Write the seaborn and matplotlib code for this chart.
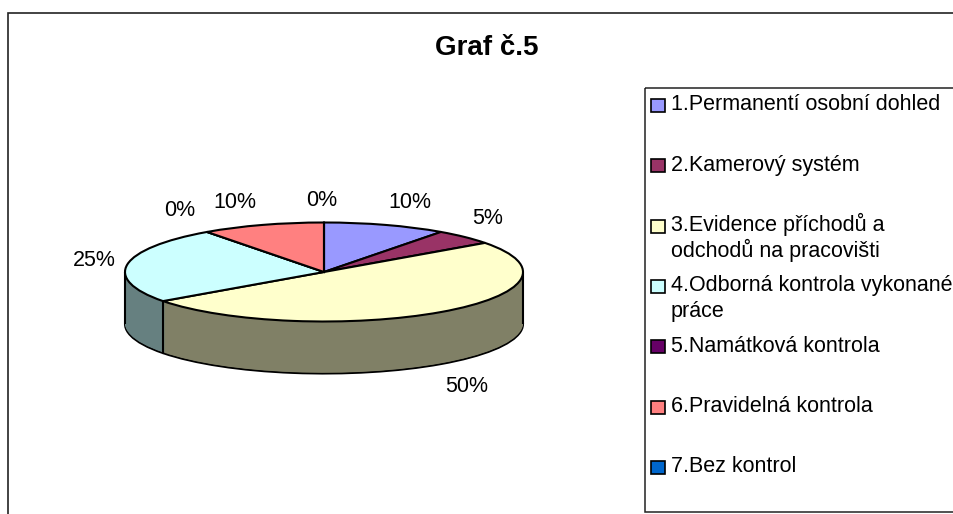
import matplotlib.pyplot as plt
import numpy as np
import seaborn as sns
from matplotlib.patches import Rectangle

title = "Graf č.5"
categories = [
    "1.Permanentí osobní dohled",
    "2.Kamerový systém",
    "3.Evidence příchodů a\nodchodů na pracovišti",
    "4.Odborná kontrola vykonané\npráce",
    "5.Namátková kontrola",
    "6.Pravidelná kontrola",
    "7.Bez kontrol",
]
shares = [10, 5, 50, 25, 0, 10, 0]
top_colors = ["#9999FF", "#993366", "#FFFFCC", "#CCFFFF", "#660066", "#FF8080", "#0066CC"]

# label centres in pixels, same order as shares
label_x = [410, 488, 467, 94, 180, 235, 322]
label_y = [203, 218, 386, 260, 211, 203, 201]

W, H = 954, 514
CX, CY, RX, RY = 324, 272, 199, 49.5
DEPTH = 52 / RY
FONT = "Liberation Sans"

sns.set_theme(style="white")
plt.rcParams["font.family"] = FONT
side_colors = [tuple(c * 0.5 for c in col) for col in sns.color_palette(top_colors)]

fig = plt.figure(figsize=(W / 100, H / 100), dpi=100, facecolor="white")

# pie axes: one unit is RX px across and RY px down, which squashes the circle
ax = fig.add_axes([0, 0, 1, 1])
pie_args = dict(startangle=90, counterclock=False, radius=1)

# bottom outline first so the rim layers hide its radial lines
ax.pie(shares, colors=side_colors, center=(0, -DEPTH),
       wedgeprops=dict(linewidth=1.5, edgecolor="black"), **pie_args)
for k in np.linspace(DEPTH, 0, 70)[1:-1]:
    ax.pie(shares, colors=side_colors, center=(0, -k), wedgeprops=dict(linewidth=0), **pie_args)

# vertical edges of the rim: both extremes and the slice boundary facing front
angles = np.deg2rad(90 - np.cumsum(shares) / np.sum(shares) * 360)
front = [a for a in angles if np.sin(a) < 0]
for x0, y0 in [(-1, 0), (1, 0)] + [(np.cos(a), np.sin(a)) for a in front]:
    ax.plot([x0, x0], [y0, y0 - DEPTH], color="black", lw=1.5, solid_capstyle="butt", zorder=5)

ax.pie(shares, colors=top_colors, wedgeprops=dict(linewidth=1.5, edgecolor="black", zorder=6), **pie_args)
ax.set_aspect("auto")
ax.set_xlim(-CX / RX, (W - CX) / RX)
ax.set_ylim(-(H - CY) / RY, CY / RY)
ax.axis("off")

# overlay in pixel coordinates for frame, title, labels and legend
ov = fig.add_axes([0, 0, 1, 1], facecolor="none")
ov.set_xlim(0, W)
ov.set_ylim(H, 0)
ov.axis("off")

ov.plot([8, 8, W], [H, 12.5, 12.5], color="#222222", lw=1.2, solid_joinstyle="miter")
ov.text(487, 48, title, fontsize=20, fontweight="bold", ha="center", va="center", color="black")

for val, x, y in zip(shares, label_x, label_y):
    ov.text(x, y, f"{val}%", fontsize=15.5, ha="center", va="center", color="black")

ov.add_patch(Rectangle((645.5, 87.5), 330, 424, fill=False, edgecolor="#222222", lw=1.1))

row_top = 105.5
row_step = 60.33
line_step = 26
for i, (name, col) in enumerate(zip(categories, top_colors)):
    y = row_top + i * row_step
    ov.add_patch(Rectangle((651, y - 6.5), 14, 13, facecolor=col, edgecolor="black", lw=1.2))
    for j, line in enumerate(name.split("\n")):
        ov.text(671, y + 5 + j * line_step, line, fontsize=15.5, ha="left", va="baseline",
                color="black", clip_on=True)

fig.savefig("out.png", dpi=100)
